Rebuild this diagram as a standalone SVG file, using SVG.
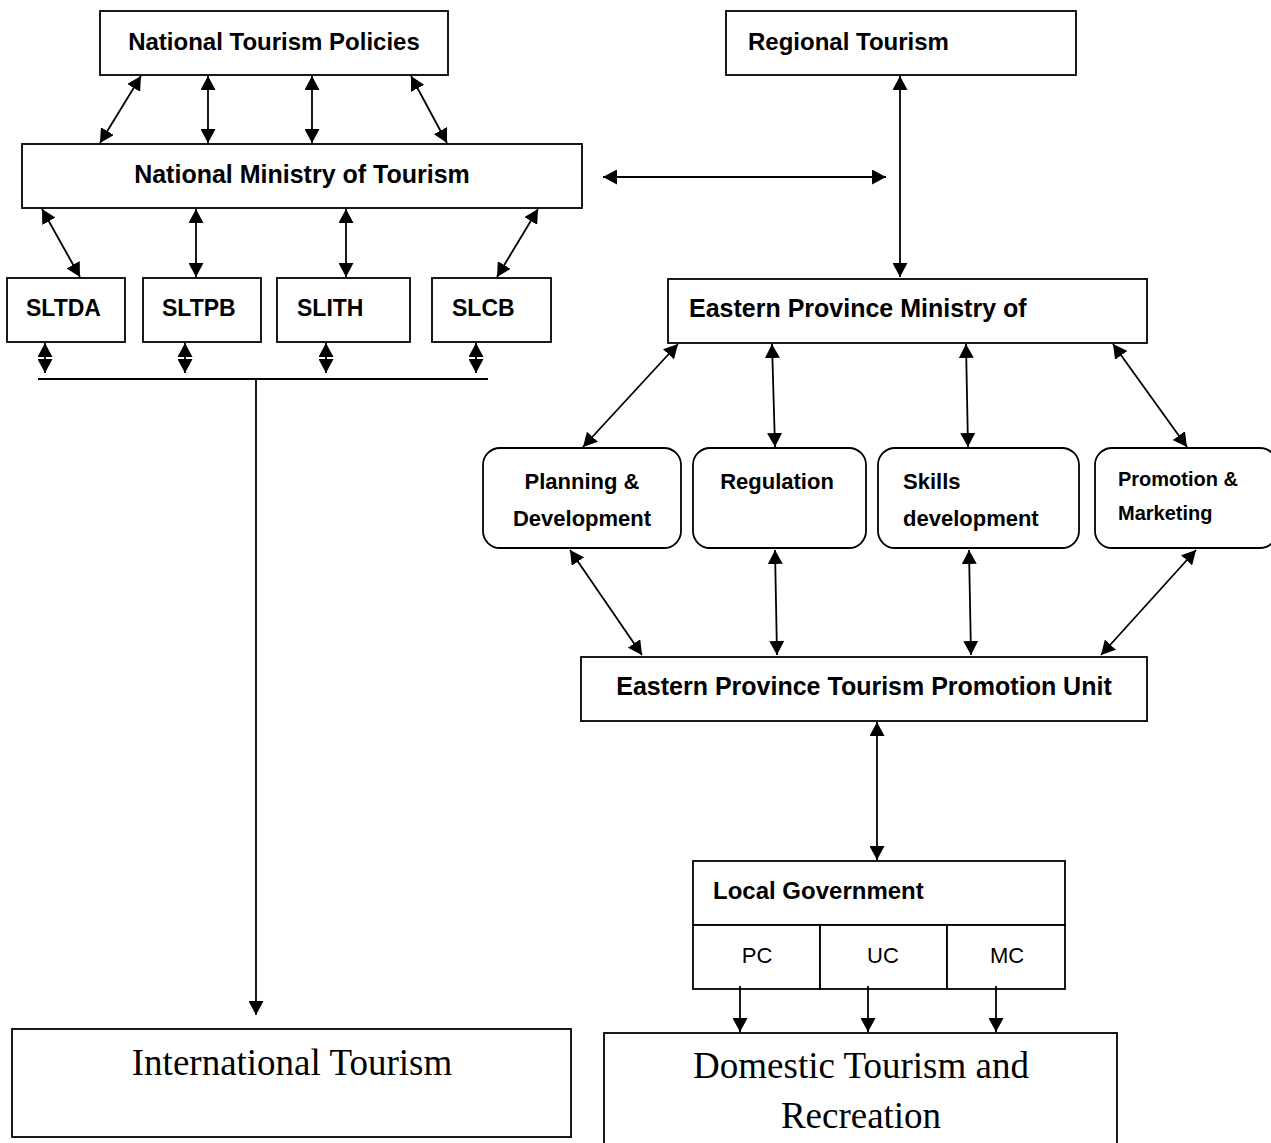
<svg xmlns="http://www.w3.org/2000/svg" width="1271" height="1143" viewBox="0 0 1271 1143">
<style>
.box{fill:#fff;stroke:#000;stroke-width:1.8}
.b{font-family:"Liberation Sans",Arial,sans-serif;font-weight:bold;fill:#000}
.r{font-family:"Liberation Sans",Arial,sans-serif;fill:#000}
.s{font-family:"Liberation Serif","Times New Roman",serif;fill:#000}
.c line{stroke:#000;stroke-width:1.8;fill:none}
.da{marker-start:url(#ah);marker-end:url(#ah)}
.sa{marker-end:url(#ah)}
</style>
<defs>
<marker id="ah" viewBox="0 0 14 15" refX="14" refY="7.5" markerWidth="14" markerHeight="15" markerUnits="userSpaceOnUse" orient="auto-start-reverse"><path d="M0,0 L14,7.5 L0,15 z" fill="#000"/></marker>
</defs>
<rect width="1271" height="1143" fill="#fff"/>

<g id="ntp"><rect class="box" x="100" y="11" width="348" height="64"/><text class="b" x="274" y="50" font-size="24" text-anchor="middle">National Tourism Policies</text></g>
<g id="nmt"><rect class="box" x="22" y="144" width="560" height="64"/><text class="b" x="302" y="183" font-size="25" text-anchor="middle">National Ministry of Tourism</text></g>
<g id="regional"><rect class="box" x="726" y="11" width="350" height="64"/><text class="b" x="748" y="50" font-size="24">Regional Tourism</text></g>
<g id="sltda"><rect class="box" x="7" y="278" width="118" height="64"/><text class="b" x="26" y="316" font-size="23">SLTDA</text></g>
<g id="sltpb"><rect class="box" x="143" y="278" width="118" height="64"/><text class="b" x="162" y="316" font-size="23">SLTPB</text></g>
<g id="slith"><rect class="box" x="277" y="278" width="133" height="64"/><text class="b" x="297" y="316" font-size="23">SLITH</text></g>
<g id="slcb"><rect class="box" x="432" y="278" width="119" height="64"/><text class="b" x="452" y="316" font-size="23">SLCB</text></g>
<g id="epm"><rect class="box" x="668" y="279" width="479" height="64"/><text class="b" x="689" y="317" font-size="25">Eastern Province Ministry of</text></g>
<g id="planning"><rect class="box" x="483" y="448" width="198" height="100" rx="17"/><text class="b" x="582" y="489" font-size="22" text-anchor="middle">Planning &amp;</text><text class="b" x="582" y="526" font-size="22" text-anchor="middle">Development</text></g>
<g id="regulation"><rect class="box" x="693" y="448" width="173" height="100" rx="17"/><text class="b" x="777" y="489" font-size="22" text-anchor="middle">Regulation</text></g>
<g id="skills"><rect class="box" x="878" y="448" width="201" height="100" rx="17"/><text class="b" x="903" y="489" font-size="22">Skills</text><text class="b" x="903" y="526" font-size="22">development</text></g>
<g id="promotion"><rect class="box" x="1095" y="448" width="182" height="100" rx="17"/><text class="b" x="1118" y="486" font-size="20">Promotion &amp;</text><text class="b" x="1118" y="520" font-size="20">Marketing</text></g>
<g id="eptpu"><rect class="box" x="581" y="657" width="566" height="64"/><text class="b" x="864" y="695" font-size="25" text-anchor="middle">Eastern Province Tourism Promotion Unit</text></g>
<g id="localgov"><rect class="box" x="693" y="861" width="372" height="64"/><text class="b" x="713" y="899" font-size="24">Local Government</text>
<rect class="box" x="693" y="925" width="127" height="64"/><rect class="box" x="820" y="925" width="127" height="64"/><rect class="box" x="947" y="925" width="118" height="64"/>
<text class="r" x="757" y="963" font-size="22" text-anchor="middle">PC</text><text class="r" x="883" y="963" font-size="22" text-anchor="middle">UC</text><text class="r" x="1007" y="963" font-size="22" text-anchor="middle">MC</text></g>
<g id="international"><rect class="box" x="12" y="1029" width="559" height="108"/><text class="s" x="292" y="1075" font-size="37" text-anchor="middle">International Tourism</text></g>
<g id="domestic"><rect class="box" x="604" y="1033" width="513" height="120"/><text class="s" x="861" y="1078" font-size="37" text-anchor="middle">Domestic Tourism and</text><text class="s" x="861" y="1128" font-size="37" text-anchor="middle">Recreation</text></g>

<g id="connectors" class="c">
<line class="da" x1="141" y1="76" x2="100" y2="143"/>
<line class="da" x1="208" y1="76" x2="208" y2="143"/>
<line class="da" x1="312" y1="76" x2="312" y2="143"/>
<line class="da" x1="411" y1="76" x2="447" y2="143"/>
<line class="da" x1="42" y1="209" x2="80" y2="277"/>
<line class="da" x1="196" y1="209" x2="196" y2="277"/>
<line class="da" x1="346" y1="209" x2="346" y2="277"/>
<line class="da" x1="538" y1="209" x2="497" y2="277"/>
<line class="da" x1="603" y1="177" x2="886" y2="177"/>
<line class="da" x1="900" y1="76" x2="900" y2="277"/>
<line class="da" x1="45" y1="343" x2="45" y2="373"/>
<line class="da" x1="185" y1="343" x2="185" y2="373"/>
<line class="da" x1="326" y1="343" x2="326" y2="373"/>
<line class="da" x1="476" y1="343" x2="476" y2="373"/>
<line x1="38" y1="379" x2="488" y2="379"/>
<line class="sa" x1="256" y1="379" x2="256" y2="1015"/>
<line class="da" x1="678" y1="344" x2="583" y2="447"/>
<line class="da" x1="772" y1="344" x2="775" y2="447"/>
<line class="da" x1="966" y1="344" x2="968" y2="447"/>
<line class="da" x1="1113" y1="344" x2="1187" y2="447"/>
<line class="da" x1="570" y1="550" x2="642" y2="655"/>
<line class="da" x1="775" y1="550" x2="777" y2="655"/>
<line class="da" x1="969" y1="550" x2="971" y2="655"/>
<line class="da" x1="1196" y1="550" x2="1101" y2="655"/>
<line class="da" x1="877" y1="722" x2="877" y2="860"/>
<line class="sa" x1="740" y1="986" x2="740" y2="1032"/>
<line class="sa" x1="868" y1="986" x2="868" y2="1032"/>
<line class="sa" x1="996" y1="986" x2="996" y2="1032"/>
</g>
</svg>
